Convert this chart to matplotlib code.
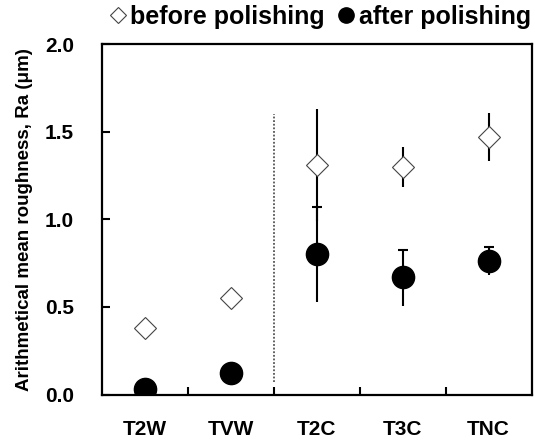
# surface roughness before / after polishing
import matplotlib.pyplot as plt
from matplotlib.lines import Line2D

plt.rcParams['font.family'] = ['Liberation Sans', 'DejaVu Sans']
plt.rcParams['font.weight'] = 'bold'

# data =================================================================
categories = ['T2W', 'TVW', 'T2C', 'T3C', 'TNC']
before = [0.38, 0.55, 1.31, 1.30, 1.47]
before_err = [0.0, 0.0, 0.32, 0.115, 0.135]
after = [0.03, 0.12, 0.80, 0.67, 0.76]
after_err_low = [0.0, 0.0, 0.27, 0.165, 0.08]
after_err_high = [0.0, 0.0, 0.27, 0.155, 0.08]
y_ticks = [0.0, 0.5, 1.0, 1.5, 2.0]
divider_x = 1.5
divider_span = (0.07, 1.6)


def main():
    fig = plt.figure(figsize=(5.35, 4.4), dpi=100)
    ax = fig.add_axes([0.1907, 0.1034, 0.8028, 0.7966])
    x = list(range(len(categories)))

    # dotted line between the two groups
    ax.plot([divider_x, divider_x], divider_span, color='#555555',
            linestyle=(0, (1, 1)), linewidth=1.3, zorder=1)

    # before polishing: hollow diamonds
    ax.errorbar(x, before, yerr=before_err, fmt='none', ecolor='black',
                elinewidth=1.5, capsize=0, zorder=2)
    ax.plot(x, before, linestyle='none', marker='D', markersize=11.5,
            markerfacecolor='white', markeredgecolor='#444444',
            markeredgewidth=0.8, zorder=4)

    # after polishing: filled circles, cap only on top
    ax.errorbar(x, after, yerr=[after_err_low, [0] * len(x)], fmt='none',
                ecolor='black', elinewidth=1.5, capsize=0, zorder=2)
    ax.errorbar(x, after, yerr=[[0] * len(x), after_err_high], fmt='none',
                ecolor='black', elinewidth=1.5, capsize=3.5, capthick=1.5,
                zorder=2)
    ax.plot(x, after, linestyle='none', marker='o', markersize=16,
            color='black', zorder=5)

    # axes ================================================================
    ax.set_xlim(-0.5, len(categories) - 0.5)
    ax.set_ylim(0, 2.0)
    ax.set_xticks(x)
    ax.set_xticklabels(categories, fontsize=15, fontweight='bold')
    ax.set_xticks([i + 0.5 for i in x[:-1]], minor=True)
    ax.tick_params(axis='x', which='major', length=0, pad=18)
    ax.tick_params(axis='x', which='minor', direction='in', length=6, width=1.5)
    ax.set_yticks(y_ticks)
    ax.set_yticklabels(['%.1f' % v for v in y_ticks], fontsize=15,
                       fontweight='bold')
    ax.tick_params(axis='y', direction='in', length=6, width=1.5, pad=20)
    for sp in ax.spines.values():
        sp.set_linewidth(1.6)

    ax.set_ylabel('Arithmetical mean roughness, Ra (\u03bcm)', fontsize=13.5,
                  fontweight='bold', labelpad=9)

    # legend above the plot
    handles = [
        Line2D([], [], linestyle='none', marker='D', markersize=8.5,
               markerfacecolor='white', markeredgecolor='#444444',
               markeredgewidth=0.8),
        Line2D([], [], linestyle='none', marker='o', markersize=11,
               color='black'),
    ]
    fig.legend(handles, ['before polishing', 'after polishing'],
               loc='center right', bbox_to_anchor=(531 / 535, 1 - 17 / 440),
               ncol=2, frameon=False, fontsize=18, handletextpad=0.15,
               columnspacing=0.5, handlelength=0.7, borderpad=0,
               borderaxespad=0)

    fig.savefig('out.png', dpi=100)


if __name__ == '__main__':
    main()
